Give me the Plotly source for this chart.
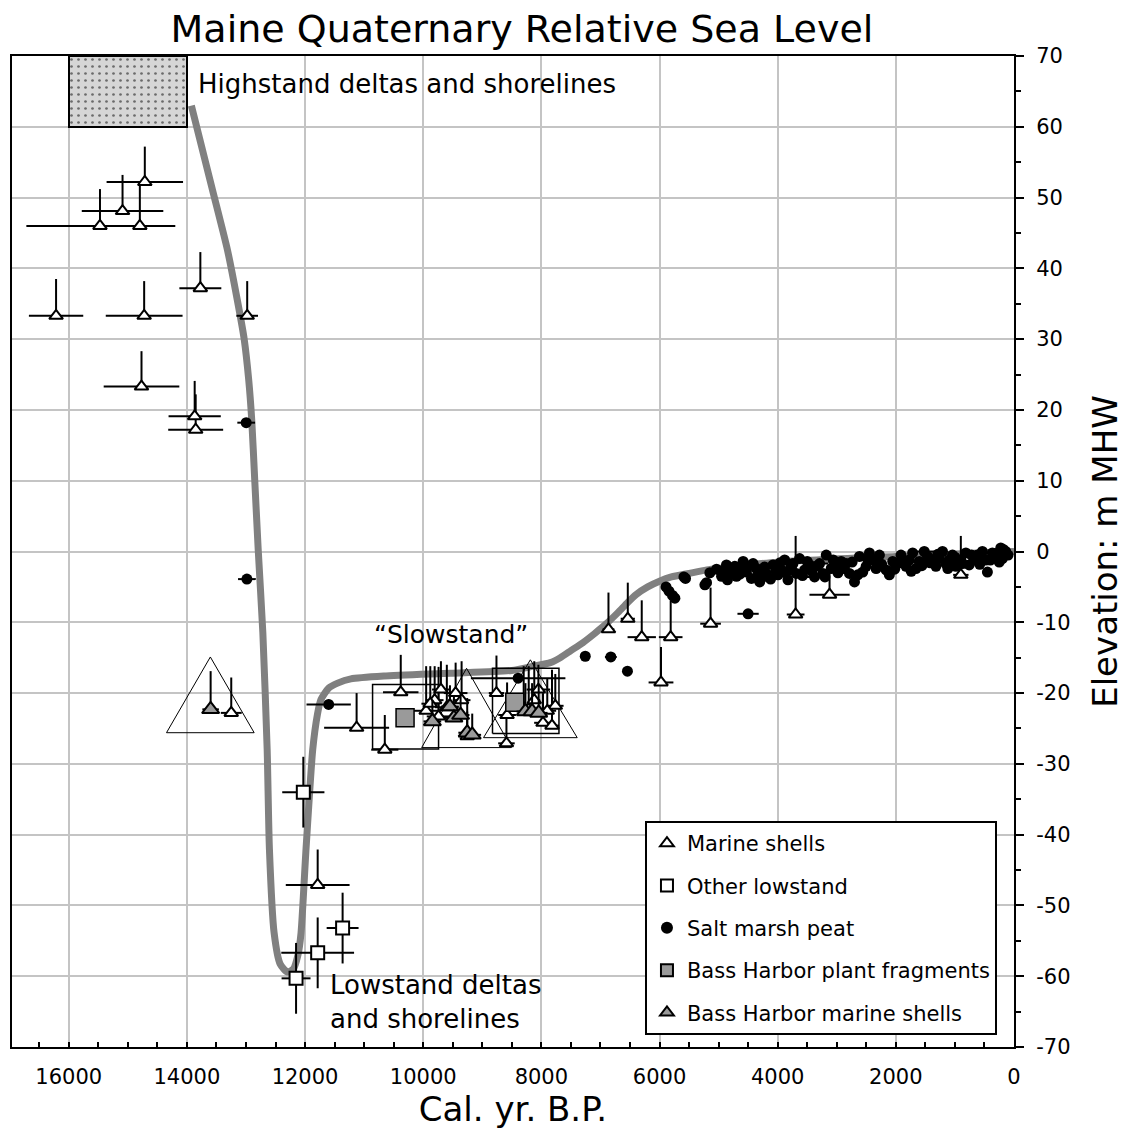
import plotly.graph_objects as go

FONT = "DejaVu Sans"

# ---------------- data ----------------
# model relative sea-level curve (cal yr BP, m MHW)
curve_age = [13924, 13570, 13316, 13148, 13030, 12954, 12903, 12852, 12793, 12714,
             12641, 12603, 12523, 12420, 12300, 12200, 12120, 12068, 11983, 11870,
             11790, 11730, 11600, 11448, 11224, 10667, 9536, 8500, 8135, 7848,
             7680, 7500, 7300, 7100, 6900, 6700, 6550, 6400, 6200, 6000,
             5800, 5500, 5200, 4000, 2000, 0]
curve_elev = [63.0, 51.2, 42.7, 35.6, 30.0, 24.3, 18.7, 10.2, 0.3, -11.5,
              -28.0, -42.0, -53.9, -58.3, -59.4, -59.0, -57.0, -53.9, -42.0, -28.0,
              -23.0, -20.9, -19.3, -18.6, -18.0, -17.6, -17.2, -16.8, -16.2, -15.7,
              -15.0, -14.0, -12.9, -11.6, -10.2, -8.6, -7.3, -6.1, -5.0, -4.2,
              -3.6, -3.1, -2.6, -1.5, -0.7, 0.0]

# highstand deltas and shorelines box
highstand_age = [16000, 14000]
highstand_elev = [60, 70]

# marine shells: age, elevation, age error (+/-), elevation error (up only)
ms_age = [16214, 14723, 13772, 12979, 14712, 15089, 15471, 14796, 14768, 13868,
          13851, 13249, 11127, 11786, 10380, 10650, 9806, 9451, 9255, 8760,
          8580, 8591, 7972, 7820, 7764, 8299, 8214, 9950, 9880, 9740,
          9700, 9600, 9350, 8120, 8050, 7900,
          6864, 6537, 6301, 5811, 5975, 5136, 3696, 3122, 900]
ms_elev = [33.3, 33.3, 37.2, 33.3, 52.2, 48.1, 46.0, 46.0, 23.3, 19.1,
           17.2, -22.8, -24.9, -47.1, -19.9, -28.0, -21.0, -20.0, -26.1, -20.0,
           -23.1, -27.1, -24.2, -24.6, -21.8, -22.1, -22.3, -22.5, -21.5, -23.3,
           -19.5, -22.0, -21.0, -21.0, -19.5, -22.5,
           -11.0, -9.5, -12.1, -12.1, -18.5, -10.2, -8.9, -6.1, -3.3]
ms_age_err = [460, 650, 355, 183, 647, 690, 1246, 600, 640, 442,
              465, 177, 550, 540, 300, 230, 150, 200, 150, 130,
              150, 140, 150, 120, 140, 100, 100, 250, 150, 200,
              150, 200, 150, 100, 200, 150,
              100, 120, 240, 200, 210, 175, 150, 340, 130]
ms_elev_err = [5.2, 4.9, 5.1, 4.9, 5.0, 5.1, 5.2, 5.7, 5.0, 5.0,
               5.0, 5.0, 4.9, 5.0, 5.3, 4.9, 4.8, 4.3, 5.4, 5.3,
               4.6, 4.8, 4.2, 7.9, 4.5, 5.9, 6.1, 6.3, 5.3, 7.0,
               4.0, 6.0, 5.5, 5.5, 3.5, 4.5,
               5.2, 5.1, 5.2, 5.2, 5.0, 5.1, 11.1, 3.6, 5.5]

# other lowstand indicators
lo_age = [12029, 11364, 11786, 12152]
lo_elev = [-34.0, -53.2, -56.7, -60.3]
lo_age_err = [357, 270, 616, 245]
lo_elev_err = [5.0, 5.0, 5.0, 5.0]

# salt marsh peat
peat_age = [12996, 12984, 11600, 8393, 7257, 6824, 6543, 4501,
            5890, 5840, 5780, 5740, 5587, 5560, 5232, 5148,
            5204, 5035, 4923, 4810, 4726, 4698, 4585, 4557,
            4867, 4670, 4529, 4444, 4416, 4360, 4304, 4248, 4191, 4079,
            3994, 3938, 3882, 3826, 3741, 3685, 3629, 3544, 3460, 3376,
            3291, 3235, 3178, 3094, 3010, 2925, 2841, 2785, 2700, 2644,
            2616, 2503, 2447, 2391, 2334, 2278, 2166, 2110, 2053, 1969,
            1913, 1828, 1772, 1716, 1660, 1603, 1519, 1463, 1378, 1322,
            1266, 1210, 1153, 1097, 1041, 984, 900, 815, 759, 675,
            619, 535, 478, 450, 366, 281, 224, 197, 140,
            4950, 4850, 4750, 4640, 4480, 4330, 4220, 4120, 4030, 3960,
            3860, 3780, 3580, 3500, 3420, 3330, 3200, 3060, 2980, 2880,
            2740, 2560, 2480, 2240, 2020, 1880, 1740, 1560, 1420, 1290,
            1120, 1000, 870, 720, 580, 400, 320, 250, 180, 100]
peat_elev = [18.2, -3.9, -21.6, -17.9, -14.8, -14.9, -16.9, -8.8,
             -5.0, -5.6, -6.2, -6.6, -3.6, -3.8, -4.7, -3.0,
             -4.4, -2.5, -2.8, -3.0, -2.1, -3.5, -1.4, -2.8,
             -1.9, -2.4, -2.9, -3.8, -1.7, -2.4, -4.3, -3.6, -3.1, -1.9,
             -3.3, -2.6, -1.2, -4.0, -1.7, -3.1, -1.0, -2.6, -1.9, -3.6,
             -1.7, -3.1, -0.5, -2.4, -1.9, -1.4, -1.7, -3.1, -4.3, -3.3,
             -0.7, -2.1, -0.2, -1.2, -2.4, -0.5, -2.6, -3.3, -1.4, -1.7,
             -0.5, -2.1, -1.2, -0.2, -2.4, -1.4, 0.0, -0.7, -1.2, -2.1,
             -1.0, 0.0, -1.7, -1.2, -0.5, -2.1, -1.2, -0.2, -1.9, -1.2,
             -0.5, 0.0, -1.2, -2.9, -0.2, -0.7, 0.5, -1.0, 0.0,
             -3.5, -4.0, -2.6, -3.2, -2.0, -3.3, -2.2, -3.9, -2.8, -1.6,
             -3.0, -2.2, -3.4, -1.4, -2.8, -2.0, -3.6, -1.2, -3.0, -2.4,
             -1.5, -2.9, -1.0, -1.8, -2.5, -1.3, -2.8, -2.0, -1.6, -0.4,
             -2.4, -0.8, -1.7, -0.5, -1.8, -1.2, -0.3, -1.5, 0.3, -0.5]
peat_age_err = [150, 150, 375, 800, 60, 100, 60, 180,
                60, 60, 60, 60, 60, 60, 60, 60,
                60, 60, 60, 60, 60, 60, 60, 60,
                60, 60, 60, 60, 60, 60, 60, 60, 60, 150,
                60, 60, 60, 60, 60, 60, 60, 60, 60, 150,
                150, 60, 60, 60, 60, 60, 60, 60, 60, 60,
                60, 60, 60, 60, 60, 60, 60, 60, 60, 60,
                60, 60, 60, 60, 60, 200, 200, 60, 60, 60,
                60, 60, 60, 60, 60, 60, 60, 60, 60, 60,
                60, 60, 60, 60, 60, 60, 60, 60, 60,
                60, 60, 60, 60, 60, 60, 60, 60, 60, 60,
                60, 60, 60, 60, 60, 60, 60, 60, 60, 60,
                60, 60, 60, 60, 60, 60, 60, 60, 60, 60,
                60, 60, 60, 60, 60, 60, 60, 60, 60, 60]

# Bass Harbor plant fragments with age / elevation ranges
bhp_age = [10307, 8450]
bhp_elev = [-23.5, -21.3]
bhp_age_old = [10857, 8827]
bhp_age_young = [9740, 7702]
bhp_elev_top = [-18.8, -16.5]
bhp_elev_bot = [-27.9, -25.7]

# Bass Harbor marine shells
bhs_age = [13598, 9845, 9547, 9480, 9367, 9255, 9170, 8270, 8157, 8045]
bhs_elev = [-22.3, -24.0, -21.9, -23.5, -23.1, -25.6, -25.9, -22.6, -22.6, -22.8]
bhs_age_err = [140, 150, 150, 150, 150, 150, 150, 150, 150, 150]
bhs_elev_err = [5.4, 3.0, 3.0, 3.0, 3.0, 3.0, 3.0, 4.0, 4.0, 4.0]

# Bass Harbor marine shell envelopes (age centre, top, base, half age span)
env_age = [13603, 9266, 8186]
env_top = [-14.9, -16.5, -15.3]
env_bot = [-25.6, -27.7, -26.3]
env_half = [742, 760, 793]

# axis ticks
x_tickvals = [16000, 14000, 12000, 10000, 8000, 6000, 4000, 2000, 0]
x_ticktext = ["16000", "14000", "12000", "10000", "8000", "6000", "4000", "2000", "0"]
y_tickvals = [70, 60, 50, 40, 30, 20, 10, 0, -10, -20, -30, -40, -50, -60, -70]
y_ticktext = ["70", "60", "50", "40", "30", "20", "10", "0", "-10", "-20", "-30",
              "-40", "-50", "-60", "-70"]

# ---------------- figure ----------------
fig = go.Figure()

# highstand box
fig.add_trace(go.Bar(
    x=[(highstand_age[0] + highstand_age[1]) / 2],
    y=[highstand_elev[1] - highstand_elev[0]],
    base=[highstand_elev[0]],
    width=[abs(highstand_age[0] - highstand_age[1])],
    marker=dict(color="#d6d6d6", line=dict(color="black", width=2),
                pattern=dict(shape=".", fgcolor="black", bgcolor="#d6d6d6",
                             size=7, solidity=0.12, fillmode="overlay")),
    showlegend=False, hoverinfo="skip"))

# sea level curve
fig.add_trace(go.Scatter(
    x=curve_age, y=curve_elev, mode="lines",
    line=dict(color="#808080", width=7, shape="spline", smoothing=0.6),
    showlegend=False, hoverinfo="skip"))

# envelopes: triangles
tx, ty = [], []
for a, t, b, h in zip(env_age, env_top, env_bot, env_half):
    tx += [a + h, a - h, a, a + h, None]
    ty += [b, b, t, b, None]
fig.add_trace(go.Scatter(x=tx, y=ty, mode="lines",
                         line=dict(color="black", width=1),
                         showlegend=False, hoverinfo="skip"))
# envelopes: rectangles
rx, ry = [], []
for o, yng, t, b in zip(bhp_age_old, bhp_age_young, bhp_elev_top, bhp_elev_bot):
    rx += [o, yng, yng, o, o, None]
    ry += [b, b, t, t, b, None]
fig.add_trace(go.Scatter(x=rx, y=ry, mode="lines",
                         line=dict(color="black", width=1.5),
                         showlegend=False, hoverinfo="skip"))

ERR = dict(color="black", thickness=2, width=0)

fig.add_trace(go.Scatter(
    x=ms_age, y=ms_elev, mode="markers", name="Marine shells",
    legendgroup="a",
    marker=dict(symbol="triangle-up", size=12, color="white",
                line=dict(color="black", width=2)),
    error_x=dict(type="data", array=ms_age_err, **ERR),
    error_y=dict(type="data", symmetric=False, array=ms_elev_err,
                 arrayminus=[0] * len(ms_elev_err), **ERR)))

fig.add_trace(go.Scatter(
    x=lo_age, y=lo_elev, mode="markers", name="Other lowstand",
    legendgroup="b",
    marker=dict(symbol="square", size=13, color="white",
                line=dict(color="black", width=2)),
    error_x=dict(type="data", array=lo_age_err, **ERR),
    error_y=dict(type="data", array=lo_elev_err, **ERR)))

fig.add_trace(go.Scatter(
    x=peat_age, y=peat_elev, mode="markers", name="Salt marsh peat",
    legendgroup="c",
    marker=dict(symbol="circle", size=11, color="black"),
    error_x=dict(type="data", array=peat_age_err, color="black",
                 thickness=2, width=0)))

fig.add_trace(go.Scatter(
    x=bhp_age, y=bhp_elev, mode="markers", name="Bass Harbor plant fragments",
    legendgroup="d",
    marker=dict(symbol="square", size=18, color="#9a9a9a",
                line=dict(color="black", width=1.5))))

fig.add_trace(go.Scatter(
    x=bhs_age, y=bhs_elev, mode="markers", name="Bass Harbor marine shells",
    legendgroup="e",
    marker=dict(symbol="triangle-up", size=15, color="#9a9a9a",
                line=dict(color="black", width=2)),
    error_x=dict(type="data", array=bhs_age_err, **ERR),
    error_y=dict(type="data", symmetric=False, array=bhs_elev_err,
                 arrayminus=[0] * len(bhs_elev_err), **ERR)))

# annotations
fig.add_annotation(x=13840, y=66, text="Highstand deltas and shorelines",
                   showarrow=False, xanchor="left", yanchor="middle",
                   font=dict(family=FONT, size=26, color="black"))
fig.add_annotation(x=9536, y=-11.7, text="“Slowstand”",
                   showarrow=False, xanchor="center", yanchor="middle",
                   font=dict(family=FONT, size=25, color="black"))
fig.add_annotation(x=11612, y=-63.7, text="Lowstand deltas<br>and shorelines",
                   showarrow=False, xanchor="left", yanchor="middle", align="left",
                   font=dict(family=FONT, size=26, color="black"))

fig.update_layout(
    width=1119, height=1135,
    margin=dict(l=2, r=113, t=48, b=96),
    paper_bgcolor="white", plot_bgcolor="white",
    font=dict(family=FONT, color="black"),
    title=dict(text="Maine Quaternary Relative Sea Level", x=0.4593, xref="container",
               xanchor="center", y=0.9935, yref="container", yanchor="top",
               font=dict(family=FONT, size=38, color="black")),
    showlegend=True,
    legend=dict(x=0.983, y=0.012, xanchor="right", yanchor="bottom",
                bgcolor="white", bordercolor="black", borderwidth=2,
                font=dict(family=FONT, size=21, color="black"),
                traceorder="grouped", tracegroupgap=12, itemsizing="constant"),
    bargap=0,
)

fig.update_xaxes(
    range=[16960, 0], tickmode="array", tickvals=x_tickvals, ticktext=x_ticktext,
    showgrid=True, gridcolor="#c4c4c4", gridwidth=2, zeroline=False,
    showline=True, linecolor="black", linewidth=2, mirror=True,
    ticks="inside", ticklen=5, tickwidth=1.5, tickcolor="black",
    minor=dict(dtick=500, tick0=0, ticks="inside", ticklen=5, tickcolor="black",
               showgrid=False),
    tickfont=dict(family=FONT, size=21, color="black"),
    ticklabelstandoff=10,
    title=dict(text="Cal. yr. B.P.", font=dict(family=FONT, size=34, color="black"),
               standoff=8))

fig.update_yaxes(
    range=[-70, 70], side="right", tickmode="array", tickvals=y_tickvals,
    ticktext=y_ticktext,
    showgrid=True, gridcolor="#c4c4c4", gridwidth=2, zeroline=False,
    showline=True, linecolor="black", linewidth=2, mirror=True,
    ticks="outside", ticklen=8, tickwidth=2, tickcolor="black",
    minor=dict(dtick=5, tick0=0, ticks="outside", ticklen=5, tickcolor="black",
               showgrid=False),
    tickfont=dict(family=FONT, size=21, color="black"),
    ticklabelstandoff=8,
    title=dict(text="Elevation: m MHW", font=dict(family=FONT, size=34, color="black"),
               standoff=24))

fig.write_html("out.html")
